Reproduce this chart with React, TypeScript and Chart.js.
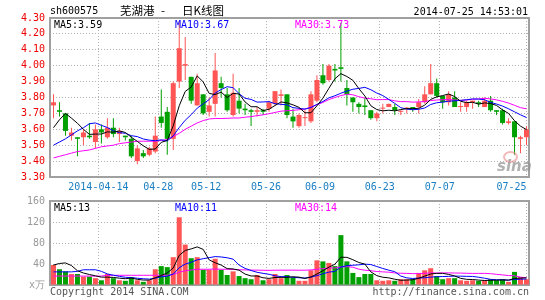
import React, { useEffect, useRef } from 'react';
import { Chart, registerables } from 'chart.js';

Chart.register(...registerables);

// ---------------- data ----------------
const OPEN = [3.75,3.72,3.70,3.56,3.55,3.55,3.56,3.52,3.60,3.55, 3.61,3.57,3.56,3.54,3.40,3.45,3.44,3.46,3.68,3.71, 3.54,3.90,4.00,3.93,3.75,3.82,3.71,3.76,3.89,3.82, 3.69,3.78,3.73,3.72,3.71,3.72,3.73,3.76,3.81,3.82, 3.68,3.62,3.67,3.65,3.78,3.94,3.91,3.98,3.99,3.86, 3.80,3.76,3.75,3.72,3.67,3.73,3.74,3.74,3.71,3.73, 3.74,3.74,3.77,3.82,3.89,3.81,3.77,3.80,3.74,3.74, 3.77,3.77,3.74,3.78,3.72,3.72,3.64,3.65,3.54,3.55];
const HIGH = [3.82,3.77,3.70,3.61,3.55,3.60,3.64,3.63,3.63,3.67, 3.67,3.61,3.56,3.56,3.50,3.47,3.49,3.68,3.85,3.74, 3.90,4.28,4.18,3.93,3.95,3.82,3.80,4.08,3.93,3.86, 3.95,3.86,3.76,3.73,3.74,3.73,3.78,3.84,3.85,3.82, 3.73,3.70,3.72,3.84,3.94,4.01,4.01,4.01,4.27,3.91, 3.80,3.77,3.80,3.72,3.71,3.76,3.76,3.76,3.72,3.74, 3.74,3.79,3.87,4.01,3.92,3.81,3.84,3.84,3.77,3.78, 3.78,3.78,3.80,3.81,3.72,3.73,3.67,3.65,3.56,3.62];
const LOW = [3.67,3.68,3.56,3.53,3.43,3.50,3.54,3.48,3.51,3.54, 3.55,3.52,3.53,3.42,3.38,3.42,3.43,3.45,3.61,3.44, 3.47,3.86,3.91,3.76,3.75,3.69,3.68,3.68,3.80,3.71, 3.68,3.70,3.69,3.62,3.68,3.69,3.71,3.75,3.75,3.67, 3.61,3.61,3.62,3.64,3.77,3.88,3.90,3.90,3.90,3.75, 3.71,3.70,3.69,3.66,3.65,3.70,3.74,3.69,3.69,3.70, 3.71,3.70,3.76,3.82,3.80,3.73,3.75,3.74,3.71,3.71, 3.73,3.74,3.74,3.71,3.69,3.63,3.63,3.44,3.45,3.50];
const CLOSE = [3.77,3.71,3.59,3.58,3.54,3.58,3.55,3.60,3.58,3.61, 3.57,3.59,3.55,3.43,3.48,3.43,3.48,3.56,3.64,3.54, 3.89,4.11,4.01,3.78,3.89,3.70,3.75,3.97,3.86,3.72, 3.83,3.73,3.72,3.71,3.72,3.71,3.77,3.84,3.82,3.69, 3.65,3.69,3.67,3.82,3.91,3.89,4.00,3.97,3.98,3.82, 3.77,3.74,3.74,3.67,3.70,3.73,3.76,3.72,3.71,3.73, 3.73,3.77,3.82,3.89,3.81,3.77,3.82,3.74,3.74,3.77, 3.78,3.76,3.78,3.72,3.71,3.64,3.65,3.55,3.55,3.60];

const MA5 = [3.61,3.66,3.70,3.67,3.638,3.600,3.568,3.570,3.570,3.584, 3.582,3.590,3.580,3.550,3.524,3.496,3.474,3.476,3.518,3.530, 3.622,3.748,3.838,3.866,3.936,3.898,3.826,3.818,3.834,3.800, 3.826,3.822,3.772,3.742,3.742,3.718,3.726,3.750,3.772,3.766, 3.754,3.738,3.704,3.704,3.748,3.796,3.858,3.918,3.950,3.932, 3.908,3.856,3.810,3.748,3.724,3.716,3.720,3.716,3.724,3.730, 3.730,3.732,3.752,3.788,3.804,3.812,3.822,3.806,3.776,3.768, 3.770,3.758,3.766,3.762,3.750,3.722,3.700,3.654,3.620,3.598];
const MA10 = [3.50,3.52,3.54,3.565,3.59,3.61,3.635,3.64,3.625,3.611, 3.591,3.579,3.575,3.560,3.554,3.539,3.532,3.528,3.534,3.527, 3.559,3.611,3.657,3.692,3.733,3.760,3.787,3.828,3.850,3.868, 3.862,3.824,3.795,3.788,3.771,3.772,3.774,3.761,3.757,3.754, 3.736,3.732,3.727,3.737,3.757,3.775,3.798,3.811,3.827,3.840, 3.852,3.857,3.864,3.849,3.828,3.812,3.788,3.763,3.736,3.727, 3.723,3.726,3.734,3.756,3.767,3.771,3.777,3.779,3.782,3.786, 3.791,3.790,3.786,3.769,3.759,3.746,3.729,3.710,3.691,3.674];
const MA30 = [3.42,3.43,3.44,3.45,3.46,3.465,3.47,3.48,3.49,3.495, 3.50,3.51,3.515,3.52,3.525,3.525,3.525,3.525,3.53,3.535, 3.555,3.575,3.60,3.62,3.64,3.655,3.665,3.668,3.668,3.669, 3.671,3.671,3.676,3.680,3.686,3.691,3.698,3.706,3.714,3.717, 3.719,3.723,3.727,3.740,3.754,3.769,3.787,3.800,3.812,3.821, 3.817,3.805,3.796,3.792,3.786,3.787,3.787,3.779,3.774,3.774, 3.771,3.772,3.775,3.781,3.784,3.786,3.788,3.784,3.782,3.784, 3.789,3.791,3.795,3.791,3.785,3.776,3.765,3.751,3.736,3.729];

const VOLUME = [38,30,26,21,21,16,16,13,9,21, 13,9,8,15,9,6,9,30,36,34, 53,129,77,51,53,29,29,50,29,19, 26,17,13,11,19,9,11,21,13,19, 14,8,8,28,47,45,42,36,95,45, 23,15,21,21,9,8,9,8,11,11, 11,23,28,32,17,11,13,13,9,8, 9,8,9,11,9,11,6,25,15,11];
const VOL_MA5 = [38,41,42,37,27.2,22.8,20,17.4,15,15, 14.4,13,12,13.2,10.8,9.4,9.4,13.8,18,23, 32.4,56.4,65.8,68.8,72.6,67.8,47.8,42.4,38,31.2, 30.6,28.2,20.8,17.2,17.2,13.8,12.6,14.2,14.6,14.6, 15.6,15,12.4,15.4,21,27.2,34,39.6,53,52.6, 48.2,42.8,39.8,25,17.8,14.8,13.6,11,9,9.4, 10,12.8,16.8,21,22.2,22.2,20.2,17.2,12.6,10.8, 10.4,9.4,8.6,9,9.2,9.6,9.2,12.4,13.2,13.6];
const VOL_MA10 = [25,25,25,25,26,29,29,29,26,21.1, 18.6,16.5,14.7,14.1,12.9,11.9,11.2,12.9,15.6,16.9, 20.9,32.9,39.8,43.4,47.8,50.1,52.1,54.1,53.4,51.9, 49.2,38,31.6,27.6,24.2,22.2,20.4,17.5,15.9,15.9, 14.7,13.8,13.3,15,17.8,21.4,24.5,26,34.2,36.8, 37.7,38.4,39.7,39,35.2,31.5,28.2,25.4,17,13.6, 12.4,13.2,13.9,15,15.8,16.1,16.5,17,16.8,16.5, 16.3,14.8,12.9,10.8,10,10,9.3,10.5,11.1,11.4];
const VOL_MA30 = [17,17,17,17,17,17,17,17,17,18.5, 18.5,18.5,18.5,18.5,18.5,18.5,18.5,18.5,18.5,18.5, 20,24.5,27,28.5,30,30,30,30.5,30,30, 29.6,29.1,28.7,28.4,28.3,28.1,27.9,28.2,28.3,28.2, 28.3,28.2,28.2,28.7,29.9,31.2,32.3,32.5,34.5,34.9, 33.9,30.1,28.2,27.2,25.7,25,24.4,23,22.4,22.1, 21.6,21.8,22.3,23,22.9,23,23.1,22.8,22.7,22.3, 22.1,22.1,22.2,21.6,20.3,19.2,18,17.6,15,13.8];

const DATE_LABELS = ['2014-04-14', '04-28', '05-12', '05-26', '06-09', '06-23', '07-07', '07-25'];
const DATE_INDEX = [8, 18, 26, 36, 45, 55, 65, 79];

const PRICE_MIN = 3.3;
const PRICE_MAX = 4.3;
const PRICE_STEP = 0.1;
const VOL_MIN = 0;
const VOL_MAX = 160;
const VOL_STEP = 40;

const PRICE_LEGEND = ['MA5:3.59', 'MA10:3.67', 'MA30:3.73'];
const VOL_LEGEND = ['MA5:13', 'MA10:11', 'MA30:14'];

// ---------------- style ----------------
const RED = '#ff5555';
const GREEN = '#00a000';
const MONO = "'DejaVu Sans Mono', 'Liberation Mono', monospace";
const CJK = "'Noto Sans CJK SC', sans-serif";
const GRID = '#b0b0b0';
const FRAME = '#a0a0a0';

const COUNT = CLOSE.length;
const X_MIN = -0.5 - 1 / 12;
const X_MAX = COUNT - 0.5 - 1 / 12;

const candleColor = CLOSE.map((c, i) => (c >= OPEN[i] ? RED : GREEN));

const framePlugin = {
  id: 'frame',
  beforeDatasetsDraw(chart: any) {
    const { ctx, chartArea: a } = chart;
    ctx.save();
    ctx.strokeStyle = FRAME;
    ctx.lineWidth = 2;
    ctx.strokeRect(a.left, a.top, a.right - a.left, a.bottom - a.top);
    ctx.restore();
  },
};

function xAxis(showLabels: boolean, height: number) {
  return {
    type: 'linear',
    min: X_MIN,
    max: X_MAX,
    offset: false,
    bounds: 'data',
    grid: { offset: false, color: GRID, lineWidth: 1, drawTicks: false },
    border: { display: false, dash: [1, 2] },
    afterBuildTicks: (s: any) => {
      s.ticks = DATE_INDEX.map((idx, k) => ({ value: k === DATE_INDEX.length - 1 ? idx : idx - 0.5 }));
    },
    ticks: {
      display: showLabels,
      autoSkip: false,
      maxRotation: 0,
      minRotation: 0,
      padding: 4,
      color: '#1a7fc4',
      font: { family: MONO, size: 10 },
      callback: (_v: any, k: number) =>
        k === DATE_LABELS.length - 1 ? DATE_LABELS[k] + '     ' : DATE_LABELS[k],
    },
    afterFit: (s: any) => {
      s.height = height;
      s.paddingLeft = 0;
      s.paddingRight = 0;
    },
  };
}

const maLine = (data: number[], color: string) => ({
  type: 'line',
  data: data.map((y, i) => ({ x: i, y })),
  borderColor: color,
  borderWidth: 1,
  pointRadius: 0,
  tension: 0,
  fill: false,
  order: 0,
});

function priceConfig(): any {
  return {
    type: 'bar',
    data: {
      datasets: [
        maLine(MA5, '#000000'),
        maLine(MA10, '#0000ff'),
        maLine(MA30, '#ff00ff'),
        {
          type: 'bar',
          data: OPEN.map((o, i) => ({ x: i, y: [o, CLOSE[i]] })),
          backgroundColor: candleColor,
          barThickness: 5,
          minBarLength: 1,
          grouped: false,
          inflateAmount: 0,
          borderWidth: 0,
          order: 1,
        },
        {
          type: 'bar',
          data: LOW.map((l, i) => ({ x: i, y: [l, HIGH[i]] })),
          backgroundColor: candleColor,
          barThickness: 1,
          grouped: false,
          inflateAmount: 0,
          borderWidth: 0,
          order: 2,
        },
      ],
    },
    options: {
      animation: false,
      responsive: false,
      events: [],
      layout: { padding: { left: 0, right: 16, top: 18, bottom: 103 } },
      plugins: { legend: { display: false }, tooltip: { enabled: false } },
      scales: {
        x: xAxis(true, 20),
        y: {
          min: PRICE_MIN,
          max: PRICE_MAX,
          beginAtZero: false,
          grid: { color: GRID, lineWidth: 1, drawTicks: false },
          border: { display: false, dash: [1, 2] },
          ticks: {
            stepSize: PRICE_STEP,
            padding: 5,
            color: '#ee0000',
            font: { family: MONO, size: 10 },
            callback: (v: any) => Number(v).toFixed(2),
          },
          afterFit: (s: any) => {
            s.width = 50;
          },
        },
      },
    },
    plugins: [framePlugin],
  };
}

function volConfig(): any {
  return {
    type: 'bar',
    data: {
      datasets: [
        maLine(VOL_MA5, '#000000'),
        maLine(VOL_MA10, '#0000ff'),
        maLine(VOL_MA30, '#ff00ff'),
        {
          type: 'bar',
          data: VOLUME.map((v, i) => ({ x: i, y: v })),
          backgroundColor: candleColor,
          barThickness: 5,
          grouped: false,
          inflateAmount: 0,
          borderWidth: 0,
          order: 1,
        },
      ],
    },
    options: {
      animation: false,
      responsive: false,
      events: [],
      layout: { padding: { left: 0, right: 16, top: 201, bottom: 0 } },
      plugins: { legend: { display: false }, tooltip: { enabled: false } },
      scales: {
        x: xAxis(false, 15),
        y: {
          min: VOL_MIN,
          max: VOL_MAX,
          grid: { color: GRID, lineWidth: 1, drawTicks: false },
          border: { display: false, dash: [1, 2] },
          ticks: {
            stepSize: VOL_STEP,
            padding: 5,
            color: '#999999',
            font: { family: MONO, size: 10 },
            callback: (v: any) => (Number(v) === 0 ? 'x万' : String(v)),
          },
          afterFit: (s: any) => {
            s.width = 50;
          },
        },
      },
    },
    plugins: [framePlugin],
  };
}

type TProps = {
  x?: number;
  right?: number;
  y: number;
  color?: string;
  size?: number;
  family?: string;
  children: React.ReactNode;
  style?: React.CSSProperties;
};

function T({ x, right, y, color = '#000', size = 10, family = MONO, children, style }: TProps) {
  const lh = size + 2;
  return (
    <div
      style={{
        position: 'absolute',
        left: x,
        right,
        top: y - lh / 2,
        lineHeight: `${lh}px`,
        fontSize: size,
        fontFamily: family,
        color,
        whiteSpace: 'pre',
        ...style,
      }}
    >
      {children}
    </div>
  );
}

export default function App() {
  const priceRef = useRef<HTMLCanvasElement>(null);
  const volRef = useRef<HTMLCanvasElement>(null);

  useEffect(() => {
    document.body.style.margin = '0';
    const c1 = new Chart(priceRef.current as HTMLCanvasElement, priceConfig());
    const c2 = new Chart(volRef.current as HTMLCanvasElement, volConfig());
    return () => {
      c1.destroy();
      c2.destroy();
    };
  }, []);

  const canvasStyle: React.CSSProperties = {
    position: 'absolute',
    left: 0,
    top: 0,
    width: 545,
    height: 300,
    display: 'block',
  };

  return (
    <div style={{ position: 'relative', width: 545, height: 300, background: '#fff', overflow: 'hidden' }}>
      <canvas ref={priceRef} width={545} height={300} style={canvasStyle} />
      <canvas ref={volRef} width={545} height={300} style={canvasStyle} />

      <T x={50} y={11}>sh600575</T>
      <T x={120} y={10.5} size={11.5} family={CJK}>芜湖港</T>
      <T x={161} y={10.5} size={11.5} family={CJK}>-</T>
      <T x={182} y={10.5} size={11.5} family={CJK}>日K线图</T>
      <T right={17} y={12}>2014-07-25 14:53:01</T>

      <T x={54} y={24.5} color="#000000">{PRICE_LEGEND[0]}</T>
      <T x={175} y={24.5} color="#0000ff">{PRICE_LEGEND[1]}</T>
      <T x={295} y={24.5} color="#ff00ff">{PRICE_LEGEND[2]}</T>

      <T x={54} y={207.5} color="#000000">{VOL_LEGEND[0]}</T>
      <T x={175} y={207.5} color="#0000ff">{VOL_LEGEND[1]}</T>
      <T x={295} y={207.5} color="#ff00ff">{VOL_LEGEND[2]}</T>

      <div
        style={{
          position: 'absolute',
          left: 503,
          top: 151,
          width: 11,
          height: 8,
          borderRadius: '50%',
          border: '2px solid rgba(235,130,130,0.55)',
        }}
      />
      <T
        x={497}
        y={166}
        size={15}
        color="rgba(150,150,150,0.75)"
        family="'DejaVu Sans', sans-serif"
        style={{ fontStyle: 'italic', fontWeight: 'bold' }}
      >
        sina
      </T>

      <T x={50} y={292} color="#555555">Copyright 2014 SINA.COM</T>
      <T right={16} y={292} color="#555555">http://finance.sina.com.cn</T>
    </div>
  );
}
